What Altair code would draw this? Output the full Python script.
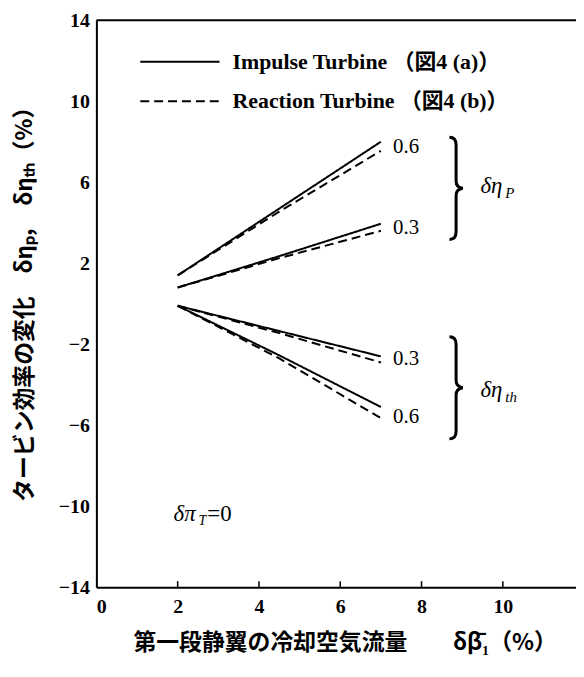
import altair as alt
import pandas as pd

# ---- data ----
x_pts = [2, 4.5, 7]
imp_p06 = [1.4, 4.7, 8.0]
rea_p06 = [1.4, 4.55, 7.55]
imp_p03 = [0.8, 2.35, 3.95]
rea_p03 = [0.8, 2.25, 3.6]
imp_t03 = [-0.1, -1.35, -2.6]
rea_t03 = [-0.1, -1.45, -2.9]
imp_t06 = [-0.1, -2.55, -5.1]
rea_t06 = [-0.1, -2.7, -5.65]

series_names = ["Impulse  Turbine （図4 (a)）", "Reaction  Turbine （図4 (b)）"]

x_ticks = [0, 2, 4, 6, 8, 10]
y_ticks = [-14, -10, -6, -2, 2, 6, 10, 14]

end_labels = ["0.6", "0.3", "0.3", "0.6"]
end_label_y = [7.75, 3.75, -2.75, -5.6]
end_label_x = [7.3, 7.3, 7.3, 7.3]

brace_x = [8.85, 8.85]
brace_y = [5.7, -4.15]

group_main = ["δη", "δη"]
group_sub = ["P", "th"]
group_x = [9.45, 9.45]
group_y = [5.8, -4.25]

# legend rows (in data units)
legend_y = [11.95, 10.0]
legend_x1 = [1.08, 1.08]
legend_x2 = [3.03, 3.03]
legend_text_x = [3.35, 3.35]

SERIF = "Liberation Serif, Noto Sans CJK JP"
CJK = "Noto Sans CJK JP"

rows = []
for name, vals, grp in [
    (series_names[0], imp_p06, "p06"), (series_names[1], rea_p06, "p06"),
    (series_names[0], imp_p03, "p03"), (series_names[1], rea_p03, "p03"),
    (series_names[0], imp_t03, "t03"), (series_names[1], rea_t03, "t03"),
    (series_names[0], imp_t06, "t06"), (series_names[1], rea_t06, "t06"),
]:
    for xv, yv in zip(x_pts, vals):
        rows.append({"x": xv, "y": yv, "series": name, "line": name + grp})
df = pd.DataFrame(rows)

W, H = 483, 571
xs = alt.Scale(domain=[0, 11.8], nice=False, zero=False)
ys = alt.Scale(domain=[-14, 14], nice=False, zero=False)
dash = alt.StrokeDash("series:N", scale=alt.Scale(
    domain=series_names, range=[[1, 0], [9, 5]]), legend=None)

lines = alt.Chart(df).mark_line(color="black", strokeWidth=2).encode(
    x=alt.X("x:Q", scale=xs, axis=alt.Axis(
        values=x_ticks, title="第一段静翼の冷却空気流量　　δβ̄₁（%）",
        titleX=250, titleY=56, titleBaseline="middle", titleAlign="center",
        titleFont=CJK, titleFontSize=23, titleFontWeight="bold",
        labelFont=SERIF, labelFontSize=20, labelFontWeight="bold",
        labelPadding=9, tickSize=0,
        domainColor="black", domainWidth=2, labelColor="black", grid=False,
        titleColor="black")),
    y=alt.Y("y:Q", scale=ys, axis=alt.Axis(
        values=y_ticks, title="タービン効率の変化　δηₚ,　δηₜₕ（%）",
        titleX=-72, titleY=280, titleBaseline="middle", titleAlign="center",
        titleAngle=270,
        titleFont=CJK, titleFontSize=23, titleFontWeight="bold",
        labelFont=SERIF, labelFontSize=20, labelFontWeight="bold",
        labelPadding=7, tickSize=0,
        domainColor="black", domainWidth=2, labelColor="black", grid=False,
        titleColor="black")),
    strokeDash=dash,
    detail="line:N",
)

leg_df = pd.DataFrame({"x1": legend_x1, "x2": legend_x2, "y": legend_y,
                       "tx": legend_text_x, "series": series_names})
leg_lines = alt.Chart(leg_df).mark_rule(color="black", strokeWidth=2).encode(
    x=alt.X("x1:Q", scale=xs), x2="x2:Q", y=alt.Y("y:Q", scale=ys),
    strokeDash=dash)
leg_text = alt.Chart(leg_df).mark_text(
    align="left", baseline="middle", font=SERIF, fontSize=22,
    fontWeight="bold", color="black").encode(
    x=alt.X("tx:Q", scale=xs), y=alt.Y("y:Q", scale=ys), text="series:N")

top_border = alt.Chart(pd.DataFrame({"y": [14]})).mark_rule(
    color="black", strokeWidth=2).encode(y=alt.Y("y:Q", scale=ys))

inner_ticks = alt.Chart(pd.DataFrame({"x": x_ticks[1:]})).mark_rule(
    color="black", strokeWidth=1.5).encode(
    x=alt.X("x:Q", scale=xs), y=alt.datum(-14), y2=alt.datum(-13.7))

lab_df = pd.DataFrame({"x": end_label_x, "y": end_label_y, "t": end_labels})
end_text = alt.Chart(lab_df).mark_text(
    align="left", baseline="middle", font=SERIF, fontSize=21,
    color="black").encode(
    x=alt.X("x:Q", scale=xs), y=alt.Y("y:Q", scale=ys), text="t:N")

brace_path = ("M -0.13 -1 Q 0 -1 0 -0.85 L 0 -0.14 Q 0 -0.02 0.13 0 "
              "Q 0 0.02 0 0.14 L 0 0.85 Q 0 1 -0.13 1")
braces = alt.Chart(pd.DataFrame({"x": brace_x, "y": brace_y})).mark_point(
    shape=brace_path, size=10600, filled=False, color="black",
    strokeWidth=3, opacity=1).encode(
    x=alt.X("x:Q", scale=xs), y=alt.Y("y:Q", scale=ys))

grp_df = pd.DataFrame({"x": group_x, "y": group_y, "m": group_main, "s": group_sub})
grp_main = alt.Chart(grp_df).mark_text(
    align="left", baseline="middle", font=SERIF, fontSize=23,
    fontStyle="italic", color="black").encode(
    x=alt.X("x:Q", scale=xs), y=alt.Y("y:Q", scale=ys), text="m:N")
grp_sub = alt.Chart(grp_df).mark_text(
    align="left", baseline="middle", font=SERIF, fontSize=15, dx=25, dy=7,
    fontStyle="italic", color="black").encode(
    x=alt.X("x:Q", scale=xs), y=alt.Y("y:Q", scale=ys), text="s:N")

pi_df = pd.DataFrame({"x": [1.9], "y": [-10.4], "a": ["δπ"], "b": ["T"], "c": ["=0"]})
pi_a = alt.Chart(pi_df).mark_text(
    align="left", baseline="middle", font=SERIF, fontSize=23,
    fontStyle="italic", color="black").encode(
    x=alt.X("x:Q", scale=xs), y=alt.Y("y:Q", scale=ys), text="a:N")
pi_b = alt.Chart(pi_df).mark_text(
    align="left", baseline="middle", font=SERIF, fontSize=14, dx=25, dy=7,
    fontStyle="italic", color="black").encode(
    x=alt.X("x:Q", scale=xs), y=alt.Y("y:Q", scale=ys), text="b:N")
pi_c = alt.Chart(pi_df).mark_text(
    align="left", baseline="middle", font=SERIF, fontSize=23,
    color="black", dx=34).encode(
    x=alt.X("x:Q", scale=xs), y=alt.Y("y:Q", scale=ys), text="c:N")

chart = alt.layer(
    lines, leg_lines, leg_text, top_border, inner_ticks, end_text, braces,
    grp_main, grp_sub, pi_a, pi_b, pi_c
).properties(
    width=W, height=H,
    autosize=alt.AutoSizeParams(type="none"),
    padding={"left": 89, "top": 10, "right": 0, "bottom": 75},
    background="white",
).configure_view(stroke=None)

chart.save("out.html", embed_options={"renderer": "svg", "actions": False})
